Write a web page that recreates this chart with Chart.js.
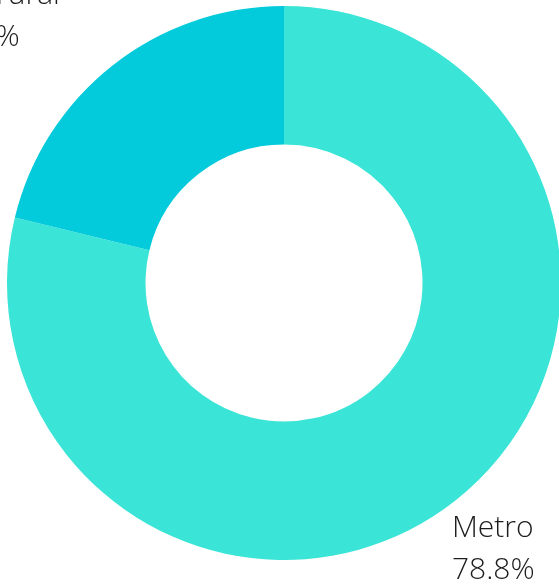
<!DOCTYPE html>
<html>
<head>
<meta charset="utf-8">
<script src="https://cdn.jsdelivr.net/npm/chart.js@4/dist/chart.umd.min.js"></script>
<style>
  html, body { margin: 0; padding: 0; overflow: hidden; background: #ffffff; }
  body { width: 559px; height: 588px; position: relative; }
  #wrap { position: absolute; left: 0; top: 0; width: 600px; height: 600px; }
</style>
</head>
<body>
<div id="wrap"><canvas id="c"></canvas></div>
<script>
const categories = ["Metro", "Regional cities and rural"];
const categoryLines = [["Metro"], ["Regional cities", "and rural"]];
const shares = [78.8, 21.2];
const valueLabels = ["78.8%", "21.2%"];
const sliceColors = ["#3AE4D6", "#03CBDB"];

const outsideLabels = {
  id: "outsideLabels",
  afterDatasetsDraw(chart) {
    const ctx = chart.ctx;
    const meta = chart.getDatasetMeta(0);
    const font = "300 30px 'Open Sans'";
    const lineH = 42, pad = 4, offset = 4;
    ctx.save();
    ctx.font = font;
    ctx.fillStyle = "#1c1c1c";
    ctx.textAlign = "left";
    ctx.textBaseline = "middle";
    meta.data.forEach((arc, i) => {
      const p = arc.getProps(["x", "y", "startAngle", "endAngle", "outerRadius"], true);
      const mid = (p.startAngle + p.endAngle) / 2;
      const vx = Math.cos(mid), vy = Math.sin(mid);
      const ax = p.x + vx * p.outerRadius, ay = p.y + vy * p.outerRadius;
      const lines = categoryLines[i].concat([valueLabels[i]]);
      const w = Math.max(...lines.map(l => ctx.measureText(l).width)) + 2 * pad;
      const h = lines.length * lineH + 2 * pad;
      const vs = 1 / Math.max(Math.abs(vx), Math.abs(vy));
      const cx = ax + (w / 2) * vx * vs + offset * vx;
      const cy = ay + (h / 2) * vy * vs + offset * vy;
      const left = cx - w / 2 + pad;
      const top = cy - h / 2 + pad;
      lines.forEach((l, k) => ctx.fillText(l, left, top + lineH * (k + 0.5)));
    });
    ctx.restore();
  }
};

new Chart(document.getElementById("c"), {
  type: "doughnut",
  data: {
    labels: categories,
    datasets: [{
      data: shares,
      backgroundColor: sliceColors,
      borderWidth: 0,
      hoverOffset: 0
    }]
  },
  options: {
    responsive: true,
    maintainAspectRatio: false,
    animation: false,
    cutout: "50%",
    layout: { padding: { left: 7, top: 6, right: 39, bottom: 40 } },
    plugins: { legend: { display: false }, tooltip: { enabled: false } },
    events: []
  },
  plugins: [outsideLabels]
});
</script>
</body>
</html>
